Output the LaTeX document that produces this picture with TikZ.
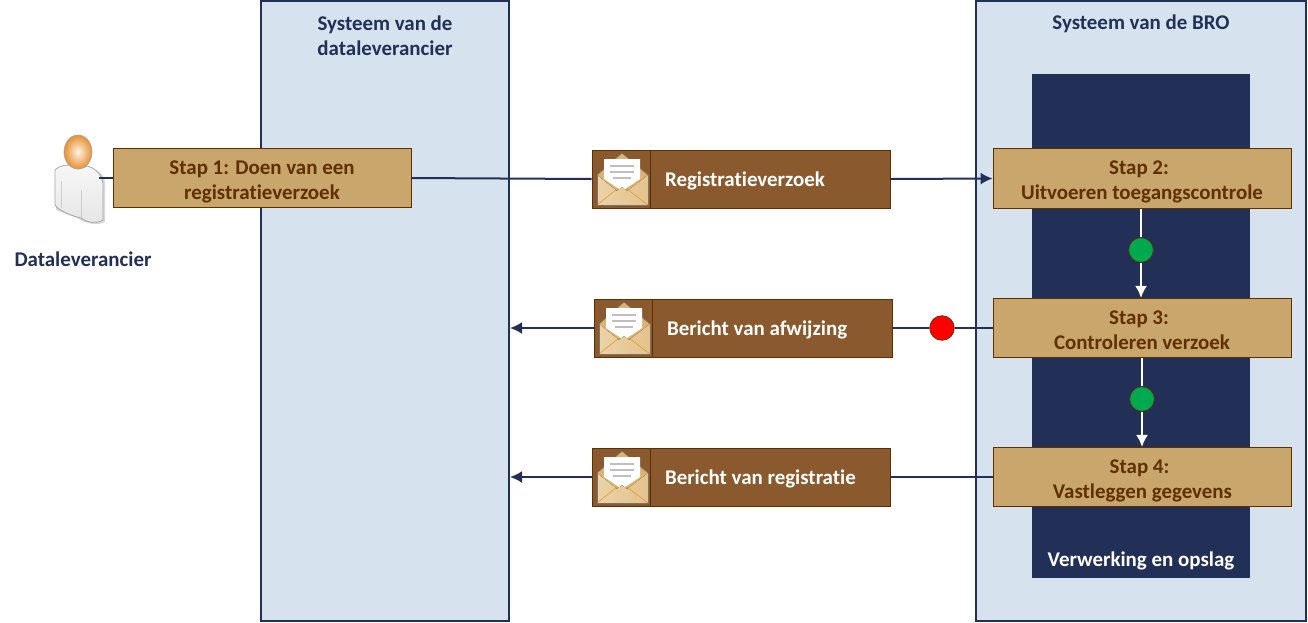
\documentclass[tikz,border=0pt]{standalone}
\usepackage{fontspec}
\setmainfont[Ligatures=NoCommon]{Carlito}
\usetikzlibrary{arrows.meta}
\definecolor{sysblue}{HTML}{D6E3EF}
\definecolor{navy}{HTML}{222F56}
\definecolor{tan}{HTML}{C9A66B}
\definecolor{mailbrown}{HTML}{8A5A2E}
\definecolor{edgebrown}{HTML}{5F2F00}
\definecolor{okgreen}{HTML}{00A84E}
\definecolor{flapgold}{HTML}{DDB36F}
\definecolor{envlight}{HTML}{EBD3A6}
\tikzset{
  sysbox/.style={draw=navy, line width=1.5pt, fill=sysblue, minimum width=#1, inner sep=0pt},
  title/.style={text=navy, font=\fontsize{15.7}{18.75}\selectfont\bfseries, align=center},
  stapbox/.style={draw=edgebrown, line width=.6pt, fill=tan, text=edgebrown, minimum width=223.5pt, minimum height=44.5pt, inner sep=0pt, text height=31.5pt, text depth=-3pt, align=center, font=\fontsize{15.7}{18.75}\selectfont\bfseries},
  mailbox/.style={draw=edgebrown, line width=.6pt, fill=mailbrown, text=white, minimum width=180pt, minimum height=43.5pt, inner sep=0pt, text width=157.5pt, text depth=.5pt, align=flush left, font=\fontsize{15.7}{18.75}\selectfont\bfseries},
  iconbox/.style={draw=edgebrown, line width=.6pt, fill=mailbrown, minimum width=43.5pt, minimum height=43.5pt, inner sep=0pt},
  dot/.style={circle, draw=edgebrown, line width=.5pt, fill=#1, minimum size=18.5pt, inner sep=0pt},
  flow/.style={draw=navy, line width=1.5pt},
  flowarrow/.style={flow, -{Latex[length=9pt,width=9pt]}},
  wflow/.style={draw=white, line width=1.5pt},
  wflowarrow/.style={wflow, -{Latex[length=9pt,width=9pt]}},
  mailicon/.pic={
    \fill[flapgold] (-24,-4) -- (1,-26) -- (27,-4) -- (27,26) -- (-24,26) -- cycle;
    \draw[black!55, line width=.5pt] (-24,-4) -- (1,-26) -- (27,-4);
    \fill[white] (-17,-20) -- (19,-20) -- (19,0) -- (1,12) -- (-17,0) -- cycle;
    \draw[black!25, line width=.8pt] (-11,-13) -- (13,-13) (-11,-7) -- (13,-7) (-8,-1) -- (10,-1);
    \fill[left color=envlight, right color=flapgold!80!white] (-24,-4) -- (-4,12) -- (1,8) -- (6,12) -- (27,-4) -- (27,26) -- (-24,26) -- cycle;
    \draw[orange!50!tan, line width=.4pt] (-24,26) -- (-4,10) (27,26) -- (6,10);
    \draw[black!55, line width=.6pt] (-24,-4) -- (-24,26) -- (27,26) -- (27,-4);
  },
  personicon/.pic={
    \fill[black!15] (-22,-8) .. controls (-18,-13) and (-8,-16) .. (2,-14) .. controls (20,-12) and (27,-6) .. (27,4) -- (27,42) .. controls (20,46) and (8,44) .. (-1,38) -- (-22,30) -- cycle;
    \shade[draw=black!35, line width=.6pt, top color=black!3, bottom color=black!10] (-23,-10) .. controls (-18,-15) and (-10,-16) .. (-6,-14) .. controls (-2,-11) and (5,-11) .. (9,-14) .. controls (17,-12) and (24,-6) .. (25,4) -- (25,40) .. controls (18,44) and (10,43) .. (3,38) .. controls (-5,36) and (-18,32) .. (-23,25) -- cycle;
    \draw[black!20, line width=.6pt] (-17,1) -- (-17,28) (3,10) -- (3,38);
    \shade[draw=black!35, line width=.5pt, inner color=orange!10!white, outer color=orange!55!tan] (0,-28) ellipse (14 and 17);
  }
}
\begin{document}
\begin{tikzpicture}[x=.75pt, y=-.75pt]
\useasboundingbox (0,0) rectangle (1308,622);
\node[sysbox=186pt, minimum height=465pt] (sysdata) at (385,311){};
\node[sysbox=247.5pt, minimum height=465pt] (sysbro) at (1141,311){};
\node[fill=navy, minimum width=163.5pt, minimum height=378pt, inner sep=0pt] (verwerking) at (1141,326){};
\node[title] (titledata) at (385,35.5){Systeem van de\\dataleverancier};
\node[title] (titlebro) at (1141,24){Systeem van de BRO};
\node[title, text=white] (titleverw) at (1141,561){Verwerking en opslag};
% actor
\coordinate (person) at (78,180);
\node[title] (personlabel) at (83,259){Dataleverancier};
% steps
\node[stapbox] (stap1) at (262,178){Stap 1: Doen van een\\registratieverzoek};
\node[stapbox] (stap2) at (1142,178.5){Stap 2:\hspace*{4.5pt}\\Uitvoeren toegangscontrole};
\node[stapbox] (stap3) at (1142,328){Stap 3:\hspace*{4.5pt}\\Controleren verzoek};
\node[stapbox] (stap4) at (1142.5,477){Stap 4:\hspace*{4.5pt}\\Vastleggen gegevens};
% messages
\node[iconbox] (icon1) at (621,179){};
\node[mailbox] (mail1) at (770,179){Registratieverzoek};
\node[iconbox] (icon2) at (623,328){};
\node[mailbox] (mail2) at (772,328){Bericht van afwijzing};
\node[iconbox] (icon3) at (621,477){};
\node[mailbox] (mail3) at (770,477){Bericht van registratie};
\pic at (icon1) {mailicon};
\pic at (icon2) {mailicon};
\pic at (icon3) {mailicon};
% decisions
\node[dot=okgreen] (ok1) at (1141,250){};
\node[dot=okgreen] (ok2) at (1142,399){};
\node[dot=red] (nok) at (942,328){};
% connectors
\draw[flow] (stap1.east) -- (icon1.west);
\draw[flowarrow] (mail1.east) -- (stap2.west);
\draw[flow] (stap3.west) -- (nok);
\draw[flow] (nok) -- (mail2.east);
\draw[flowarrow] (icon2.west) -- (sysdata.east |- icon2.west);
\draw[flow] (stap4.west) -- (mail3.east);
\draw[flowarrow] (icon3.west) -- (sysdata.east |- icon3.west);
\draw[wflow] (stap2.south -| ok1) -- (ok1);
\draw[wflowarrow] (ok1) -- (stap3.north -| ok1);
\draw[wflow] (stap3.south -| ok2) -- (ok2);
\draw[wflowarrow] (ok2) -- (stap4.north -| ok2);
\pic at (person) {personicon};
\draw[flow] (99,178) coordinate (personedge) -- (stap1.west);
\end{tikzpicture}
\end{document}
